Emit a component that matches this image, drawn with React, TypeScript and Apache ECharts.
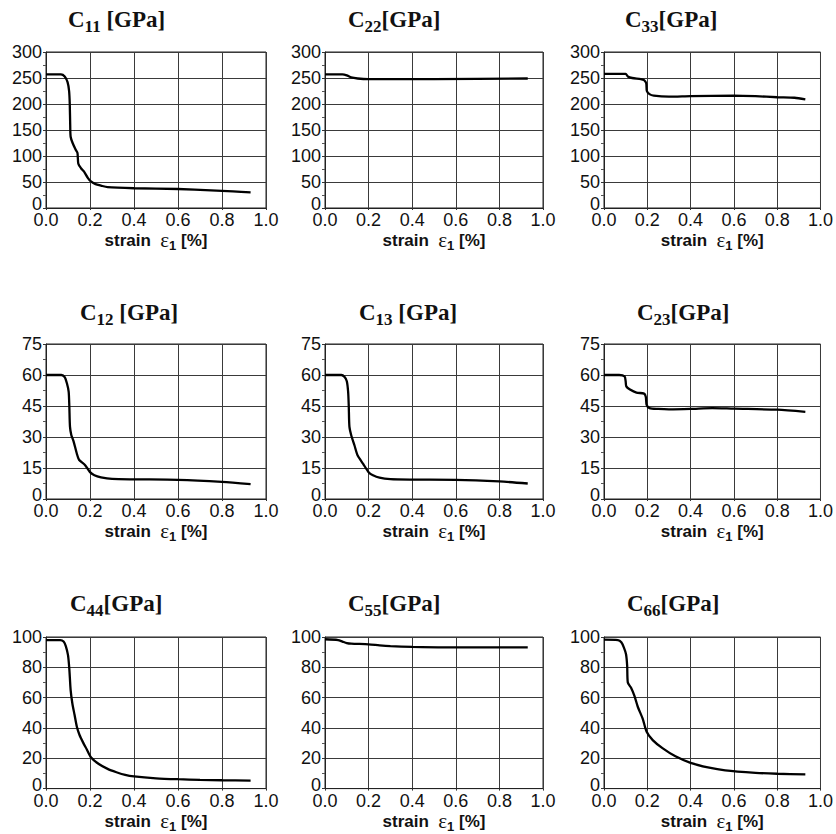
import React, { useEffect, useRef } from "react";
import * as echarts from "echarts";

// strain [%] vs stiffness component [GPa]
const c11: number[][] = [[0,257],[0.068,257],[0.085,253],[0.098,242],[0.105,225],[0.108,200],[0.11,160],[0.112,137],[0.121,125],[0.135,112],[0.143,106],[0.147,85],[0.16,76],[0.173,70],[0.19,58],[0.204,51],[0.225,46],[0.25,43],[0.28,40],[0.4,38],[0.6,36.5],[0.75,34],[0.85,32],[0.93,30]];
const c22: number[][] = [[0,257],[0.08,257],[0.1,255],[0.12,251],[0.15,249],[0.2,248],[0.5,248],[0.93,249]];
const c33: number[][] = [[0,258],[0.1,258],[0.11,253],[0.13,250],[0.17,248],[0.185,246],[0.195,240],[0.198,225],[0.21,219],[0.23,216],[0.3,214],[0.4,215],[0.6,216],[0.7,215],[0.8,213],[0.88,212],[0.93,209]];
const c12: number[][] = [[0,60],[0.07,60],[0.085,59],[0.095,56],[0.103,52],[0.106,45],[0.109,35],[0.115,31],[0.125,28],[0.14,22],[0.15,19],[0.177,16.5],[0.2,13],[0.22,11.5],[0.25,10.5],[0.3,9.7],[0.4,9.5],[0.6,9.3],[0.8,8.3],[0.93,7.2]];
const c13: number[][] = [[0,60],[0.075,60],[0.09,59],[0.1,57],[0.106,52],[0.109,45],[0.112,35],[0.12,31],[0.135,26],[0.15,21],[0.175,17],[0.2,13],[0.22,11.5],[0.25,10.3],[0.3,9.6],[0.4,9.4],[0.6,9.3],[0.8,8.5],[0.93,7.5]];
const c23: number[][] = [[0,60],[0.07,60],[0.095,59.3],[0.1,57],[0.103,54.5],[0.12,53],[0.15,51.5],[0.185,51],[0.193,49.5],[0.197,45.5],[0.21,44],[0.25,43.6],[0.3,43.4],[0.4,43.6],[0.5,44],[0.6,43.7],[0.8,43.2],[0.93,42.2]];
const c44: number[][] = [[0,98],[0.065,98],[0.08,97],[0.09,94],[0.1,88],[0.106,79],[0.112,65],[0.12,56],[0.13,48.5],[0.14,41],[0.152,35.5],[0.17,30],[0.185,26],[0.205,20.5],[0.24,16.2],[0.28,13],[0.32,10.8],[0.36,9],[0.4,8],[0.5,6.8],[0.6,6.2],[0.7,5.8],[0.8,5.5],[0.93,5.3]];
const c55: number[][] = [[0,98.5],[0.06,98],[0.08,97],[0.1,96],[0.12,95.6],[0.2,95.2],[0.25,94.5],[0.3,94],[0.4,93.5],[0.55,93.2],[0.93,93.2]];
const c66: number[][] = [[0,98.3],[0.064,98],[0.08,96.5],[0.092,93],[0.102,88.5],[0.107,81],[0.11,70],[0.125,66.5],[0.141,61],[0.156,54],[0.179,46],[0.197,37.5],[0.225,32],[0.27,26.7],[0.33,21.3],[0.4,17],[0.48,14],[0.56,12],[0.7,10.4],[0.8,9.8],[0.93,9.4]];

const subscripts = ["11", "22", "33", "12", "13", "23", "44", "55", "66"];
const titleGaps = [" ", "", "", " ", " ", "", "", "", ""];
const seriesData = [c11, c22, c33, c12, c13, c23, c44, c55, c66];
const yMaxByRow = [300, 75, 100];
const yStepByRow = [50, 15, 20];
const xMin = 0;
const xMax = 1.0;
const xStep = 0.2;

// layout
const colLeft = [46, 325, 604];
const colWidth = [220, 218, 218];
const rowTop = [52, 344, 637];
const rowHeight = [156, 155, 155];
const titleLeft = [[68, 348, 625], [80, 359, 637], [70, 348, 627]];
const titleTop = [3, 296, 587];

const SANS = "'Liberation Sans', Arial, sans-serif";
const SERIF = "'Liberation Serif', 'Times New Roman', serif";

export default function App() {
  const ref = useRef<HTMLDivElement>(null);
  useEffect(() => {
    if (!ref.current) return;
    const chart = echarts.init(ref.current, undefined, { renderer: "svg" });
    const grids: any[] = [];
    const xAxes: any[] = [];
    const yAxes: any[] = [];
    const series: any[] = [];
    const titles: any[] = [];
    for (let i = 0; i < 9; i++) {
      const r = Math.floor(i / 3);
      const c = i % 3;
      grids.push({
        left: colLeft[c],
        top: rowTop[r],
        width: colWidth[c],
        height: rowHeight[r],
        show: true,
        borderColor: "#222",
        borderWidth: 1,
        backgroundColor: "transparent",
      });
      xAxes.push({
        type: "value",
        gridIndex: i,
        min: xMin,
        max: xMax,
        interval: xStep,
        axisLine: { show: true, lineStyle: { color: "#222", width: 1 } },
        axisTick: { show: true, length: 2, lineStyle: { color: "#333" } },
        splitLine: { show: true, lineStyle: { color: "#3a3a3a", width: 1 } },
        axisLabel: {
          formatter: (v: number) => v.toFixed(1),
          fontSize: 18,
          fontFamily: SANS,
          color: "#111",
          margin: 3,
        },
        name: "{b|strain}{b|  }{e|ε}{s|1}{b| [%]}",
        nameLocation: "middle",
        nameGap: 12,
        nameTextStyle: {
          rich: {
            b: { fontSize: 17, fontWeight: "bold", fontFamily: SANS, color: "#111", lineHeight: 24 },
            e: { fontSize: 21, fontFamily: SERIF, color: "#111", lineHeight: 24 },
            s: { fontSize: 13, fontWeight: "bold", fontFamily: SANS, color: "#111", lineHeight: 12, verticalAlign: "bottom" },
          },
        },
      });
      yAxes.push({
        type: "value",
        gridIndex: i,
        min: 0,
        max: yMaxByRow[r],
        interval: yStepByRow[r],
        axisLine: { show: true, lineStyle: { color: "#222", width: 1 } },
        axisTick: { show: true, length: 3, lineStyle: { color: "#333" } },
        minorTick: { show: true, splitNumber: 2, length: 3, lineStyle: { color: "#555" } },
        splitLine: { show: true, lineStyle: { color: "#3a3a3a", width: 1 } },
        axisLabel: {
          fontSize: 18,
          fontFamily: SANS,
          color: "#111",
          margin: 4,
          formatter: (v: number) => (v === 0 ? "{z|0}" : String(v)),
          rich: {
            z: { fontSize: 18, fontFamily: SANS, color: "#111", padding: [0, 0, 8, 0] },
          },
        },
      });
      series.push({
        type: "line",
        xAxisIndex: i,
        yAxisIndex: i,
        data: seriesData[i],
        showSymbol: false,
        smooth: 0.25,
        lineStyle: { color: "#000", width: 2.3 },
      });
      titles.push({
        text: `{c|C}{s|${subscripts[i]}}{c|${titleGaps[i]}[GPa]}`,
        left: titleLeft[r][c],
        top: titleTop[r],
        padding: 0,
        textStyle: {
          rich: {
            c: { fontSize: 23, fontWeight: "bold", fontFamily: SERIF, color: "#111", lineHeight: 32 },
            s: { fontSize: 17, fontWeight: "bold", fontFamily: SERIF, color: "#111", lineHeight: 17, verticalAlign: "bottom" },
          },
        },
      });
    }
    chart.setOption({
      animation: false,
      backgroundColor: "#fff",
      title: titles,
      grid: grids,
      xAxis: xAxes,
      yAxis: yAxes,
      series,
    });
    return () => chart.dispose();
  }, []);
  return (
    <div
      ref={ref}
      style={{ position: "absolute", left: 0, top: 0, width: 836, height: 834, background: "#fff" }}
    />
  );
}
